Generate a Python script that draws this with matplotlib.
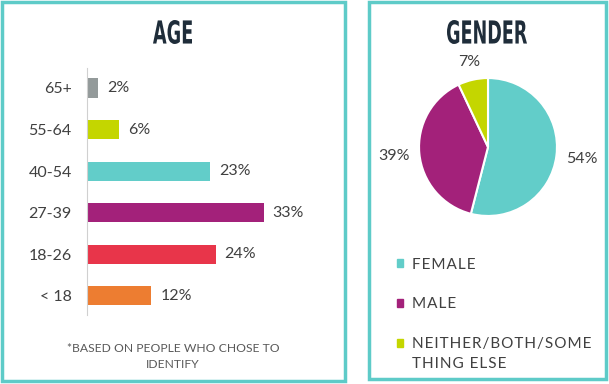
import matplotlib
matplotlib.use("Agg")
import numpy as np
import matplotlib.pyplot as plt
from matplotlib.patches import Rectangle, Patch, PathPatch
from matplotlib.textpath import TextPath
from matplotlib.font_manager import FontProperties
from matplotlib.transforms import Affine2D, IdentityTransform

W, H = 609, 384

age_groups = ["< 18", "18-26", "27-39", "40-54", "55-64", "65+"]
age_values = [12, 24, 33, 23, 6, 2]
age_colors = ["#ed7d31", "#e8354a", "#a3217a", "#62cdc9", "#c4d600", "#939a9a"]

gender_labels = ["FEMALE", "MALE", "NEITHER/BOTH/SOME"]
gender_label_tail = "THING ELSE"
gender_values = [54, 39, 7]
gender_colors = ["#62cdc9", "#a3217a", "#c4d600"]

BORDER = "#5ecbc8"
TEXT = "#404040"
TITLE = "#1f2d3a"
plt.rcParams["font.family"] = ["Lato", "DejaVu Sans"]


def px(x, y, w, h):
    # pixel box (top-left origin) -> figure fraction
    return [x / W, 1 - (y + h) / H, w / W, h / H]


def spaced(s):
    # fake letter spacing with hair spaces
    return "\u200a".join(s)


def condensed_title(fig, s, x0, x1, y0, y1):
    # squeeze a bold title into a pixel box (top-left origin)
    tp = TextPath((0, 0), s, size=30, prop=FontProperties(family="DejaVu Sans", weight="bold"))
    ext = tp.get_extents()
    sx = (x1 - x0) / ext.width
    sy = (y1 - y0) / ext.height
    tr = (Affine2D().translate(-ext.x0, -ext.y0).scale(sx, sy)
          .translate(x0, H - y1))
    fig.patches.append(PathPatch(tr.transform_path(tp), transform=IdentityTransform(),
                                 facecolor=TITLE, edgecolor="none"))


fig = plt.figure(figsize=(W / 100, H / 100), dpi=100)
fig.patch.set_facecolor("white")

# panel borders
for x, y, w, h in [(2, 2, 343, 379), (369, 2, 237, 377)]:
    b = px(x, y, w, h)
    fig.patches.append(Rectangle((b[0], b[1]), b[2], b[3], transform=fig.transFigure,
                                 fill=False, edgecolor=BORDER, linewidth=2.5))

# --- Age bars ---
ax = fig.add_axes(px(87, 68, 241, 247))
ax.barh(range(len(age_values)), age_values, height=0.46, color=age_colors, left=0)
for i, v in enumerate(age_values):
    ax.annotate(f"{v}%", (v, i), xytext=(6.5, 0), textcoords="offset points",
                va="center", ha="left", fontsize=11.5, color=TEXT)
ax.set_xlim(0, 45)
ax.set_ylim(-0.46, 5.48)
ax.set_yticks(range(len(age_groups)))
ax.set_yticklabels(age_groups, fontsize=11.5, color=TEXT)
ax.tick_params(axis="y", length=0, pad=11)
ax.set_xticks([])
for s in ["top", "right", "bottom"]:
    ax.spines[s].set_visible(False)
ax.spines["left"].set_color("#d0d0d0")
ax.patch.set_alpha(0)

condensed_title(fig, "AGE", 153, 192, 20, 44)
fig.text(173 / W, 1 - 348 / H, "*BASED ON PEOPLE WHO CHOSE TO", ha="center", va="center",
         fontsize=8.7, color="#595959")
fig.text(173 / W, 1 - 365 / H, "IDENTIFY", ha="center", va="center",
         fontsize=8.7, color="#595959")

# --- Gender pie ---
pax = fig.add_axes(px(388, 47, 200, 200))
wedges, texts = pax.pie(gender_values, colors=gender_colors, startangle=90, counterclock=False,
                        labels=[f"{v}%" for v in gender_values], labeldistance=1.3,
                        wedgeprops=dict(edgecolor="white", linewidth=1.5),
                        textprops=dict(fontsize=11.5, color=TEXT, ha="center", va="center"))
pax.set_xlim(-1.45, 1.45)
pax.set_ylim(-1.45, 1.45)
pax.set_aspect("equal")
pax.axis("off")

# outside labels: keep a fixed gap between the rim and the label box
fig.canvas.draw()
unit = pax.transData.transform((1, 0))[0] - pax.transData.transform((0, 0))[0]
for w, t in zip(wedges, texts):
    ang = np.deg2rad((w.theta1 + w.theta2) / 2)
    bb = t.get_window_extent()
    d = 1 + (9 + abs(np.cos(ang)) * bb.width / 2 + abs(np.sin(ang)) * bb.height / 2) / unit
    t.set_position((d * np.cos(ang), d * np.sin(ang)))

condensed_title(fig, "GENDER", 447, 527, 20, 44)

handles = [Patch(facecolor=c, edgecolor=c) for c in gender_colors]
leg = fig.legend(handles, [spaced(l) for l in gender_labels], loc="upper left",
                 bbox_to_anchor=(383 / W, 1 - 244 / H),
                 frameon=False, fontsize=11, handlelength=0.42, handleheight=0.42,
                 handletextpad=0.6, labelspacing=1.68, labelcolor=TEXT)

# second line of the last legend entry, under its first line
fig.canvas.draw()
bb = leg.get_texts()[-1].get_window_extent()
fig.text(bb.x0 / W, (bb.y0 - 20 + bb.height / 2) / H, spaced(gender_label_tail),
         ha="left", va="center", fontsize=11, color=TEXT)

fig.savefig("out.png", dpi=100)
